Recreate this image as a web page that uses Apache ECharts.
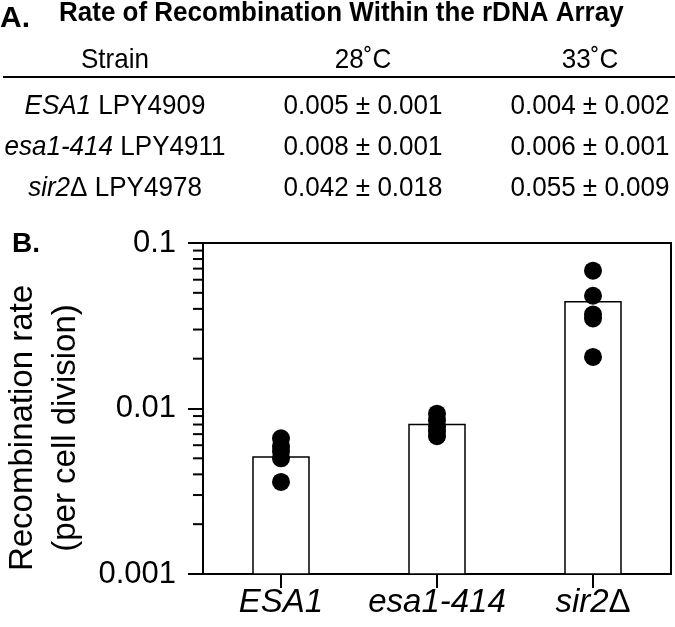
<!DOCTYPE html>
<html>
<head>
<meta charset="utf-8">
<script src="https://cdn.jsdelivr.net/npm/echarts@6/dist/echarts.min.js"></script>
<style>
html,body{margin:0;padding:0;background:#fff;}
#chart{width:675px;height:627px;}
</style>
</head>
<body>
<div id="chart"></div>
<script>
// ---------- Panel A table ----------
var tableTitle = 'Rate of Recombination Within the rDNA Array';
var tableHeader = ['Strain', '28\u02DAC', '33\u02DAC'];
var strainItalic = ['ESA1', 'esa1-414', 'sir2'];
var strainSuffix = ['', '', '\u0394'];
var strainIds = ['LPY4909', 'LPY4911', 'LPY4978'];
var rate28 = ['0.005', '0.008', '0.042'];
var sd28 = ['0.001', '0.001', '0.018'];
var rate33 = ['0.004', '0.006', '0.055'];
var sd33 = ['0.002', '0.001', '0.009'];

// ---------- Panel B chart ----------
var categories = ['ESA1', 'esa1-414', 'sir2\u0394'];
var barMeans = [0.0051, 0.0080, 0.0442];
var dotsESA1 = [0.0066, 0.0059, 0.0055, 0.0050, 0.0036];
var dotsEsa1414 = [0.0093, 0.0085, 0.0078, 0.0073, 0.0068];
var dotsSir2 = [0.068, 0.048, 0.037, 0.035, 0.0205];
var yMin = 0.001, yMax = 0.1;
var minorTickValues = [0.002,0.003,0.004,0.005,0.006,0.007,0.008,0.009,
                       0.02,0.03,0.04,0.05,0.06,0.07,0.08,0.09];

var FONT = "'Liberation Sans', Arial, Helvetica, sans-serif";
var chart = echarts.init(document.getElementById('chart'), null, {renderer:'canvas'});

var dotGroups = [dotsESA1, dotsEsa1414, dotsSir2];
var scatterData = [];
dotGroups.forEach(function(grp, i){ grp.forEach(function(v){ scatterData.push([i, v]); }); });

// table graphics
var colX = [115, 363, 590];
var headerY = 60;
var rowY = [106, 147, 188];
var TS = 28, SX = 0.93;
var g = [];
g.push({type:'text', left:0, top:4, style:{text:'A.', font:'bold 30px ' + FONT, fill:'#000'}});
g.push({type:'text', x:59, y:13, scaleY:1.05, style:{text:tableTitle, font:'bold 26px ' + FONT, fill:'#000', align:'left', verticalAlign:'middle'}});
tableHeader.forEach(function(h, i){
  g.push({type:'text', x:colX[i], y:headerY, scaleX:SX, style:{text:h, font:TS + 'px ' + FONT, fill:'#000', align:'center', verticalAlign:'middle'}});
});
g.push({type:'line', shape:{x1:3, y1:77, x2:675, y2:77}, style:{stroke:'#000', lineWidth:2}});
for (var r = 0; r < strainIds.length; r++) {
  var txt = '{i|' + strainItalic[r] + '}' + (strainSuffix[r] ? '{n|' + strainSuffix[r] + '}' : '') + '{n| ' + strainIds[r] + '}';
  g.push({type:'text', x:colX[0], y:rowY[r], scaleX:SX, style:{text:txt, align:'center', verticalAlign:'middle', fill:'#000',
    rich:{i:{font:'italic ' + TS + 'px ' + FONT, fill:'#000'}, n:{font:TS + 'px ' + FONT, fill:'#000'}}}});
  g.push({type:'text', x:colX[1], y:rowY[r], scaleX:SX, style:{text:rate28[r] + ' \u00B1 ' + sd28[r], font:TS + 'px ' + FONT, fill:'#000', align:'center', verticalAlign:'middle'}});
  g.push({type:'text', x:colX[2], y:rowY[r], scaleX:SX, style:{text:rate33[r] + ' \u00B1 ' + sd33[r], font:TS + 'px ' + FONT, fill:'#000', align:'center', verticalAlign:'middle'}});
}
g.push({type:'text', left:12, top:230, style:{text:'B.', font:'bold 28px ' + FONT, fill:'#000'}});
g.push({type:'text', x:44, y:428, rotation:Math.PI/2, style:{text:'Recombination rate\n(per cell division)', font:'33px ' + FONT, lineHeight:43, fill:'#000', align:'center', verticalAlign:'middle'}});

var BAR_W = 56;
var option = {
  animation:false,
  backgroundColor:'#fff',
  graphic: g,
  grid: {left:203, top:243, right:4, bottom:53, show:true, borderColor:'#000', borderWidth:2, backgroundColor:'transparent'},
  xAxis: {
    type:'category', data:categories,
    axisLine:{show:true, lineStyle:{color:'#000', width:2}},
    axisTick:{show:true, alignWithLabel:true, length:14, lineStyle:{color:'#000', width:2}},
    axisLabel:{margin:12, color:'#000',
      formatter:function(v){ return v.indexOf('\u0394') >= 0 ? '{i|' + v.replace('\u0394','') + '}{n|\u0394}' : '{i|' + v + '}'; },
      rich:{i:{fontFamily:FONT, fontStyle:'italic', fontSize:33, color:'#000'}, n:{fontFamily:FONT, fontSize:33, color:'#000'}}},
    splitLine:{show:false}
  },
  yAxis: {
    type:'log', logBase:10, min:yMin, max:yMax,
    axisLine:{show:true, lineStyle:{color:'#000', width:2}},
    axisTick:{show:true, length:15, lineStyle:{color:'#000', width:2}},
    axisLabel:{margin:27, color:'#000', fontFamily:FONT, fontSize:31,
      formatter:function(v){ return String(+(+v).toPrecision(1)); }},
    splitLine:{show:false}
  },
  series: [
    {type:'custom', name:'mean', data:barMeans.map(function(v, i){ return [i, v]; }), z:2,
      renderItem:function(params, api){
        var top = api.coord([api.value(0), api.value(1)]);
        var base = api.coord([api.value(0), yMin]);
        return {type:'rect', shape:{x:top[0] - BAR_W/2, y:top[1], width:BAR_W, height:base[1] - top[1]},
          style:{fill:'#fff', stroke:'#000', lineWidth:1.5}};
      }},
    {type:'scatter', data:scatterData, symbol:'circle', symbolSize:18, itemStyle:{color:'#000', opacity:1}, z:3},
    {type:'custom', data:minorTickValues.map(function(v){ return [0, v]; }), clip:false, silent:true, z:4,
      renderItem:function(params, api){
        var y = api.coord([0, api.value(1)])[1];
        var x0 = params.coordSys.x;
        return {type:'line', shape:{x1:x0 - 10, y1:y, x2:x0, y2:y}, style:{stroke:'#000', lineWidth:2}};
      }}
  ]
};
chart.setOption(option);
</script>
</body>
</html>
